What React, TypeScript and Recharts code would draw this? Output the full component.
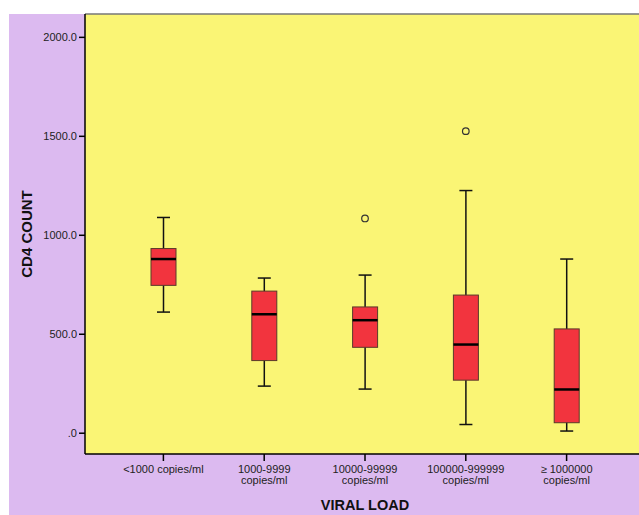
import React from "react";
import {
  ComposedChart,
  Bar,
  Line,
  XAxis,
  YAxis,
  CartesianGrid,
  ReferenceLine,
  Label,
} from "recharts";

const categories = [
  "<1000 copies/ml",
  "1000-9999|copies/ml",
  "10000-99999|copies/ml",
  "100000-999999|copies/ml",
  "≥ 1000000|copies/ml",
];
const mins = [612, 238, 223, 44, 11];
const q1s = [747, 367, 434, 268, 53];
const medians = [880, 601, 571, 448, 221];
const q3s = [933, 718, 638, 698, 527];
const maxs = [1090, 784, 799, 1226, 880];
const outliers = [null, null, 1085, 1526, null];
const yTicks = [0, 500, 1000, 1500, 2000];

const data = categories.map((name, i) => ({
  name,
  min: mins[i],
  q1: q1s[i],
  median: medians[i],
  q3: q3s[i],
  max: maxs[i],
  outlier: outliers[i],
}));

const FONT = "'Liberation Sans', Arial, sans-serif";

// range bar [min, max] gives the pixel mapping for the rest of the box
function BoxShape(props: any) {
  const { x, y, width, height, payload } = props;
  const top = Math.min(y, y + height);
  const bottom = Math.max(y, y + height);
  const span = payload.max - payload.min;
  const toY = (v: number) => top + ((payload.max - v) / span) * (bottom - top);
  const cx = x + width / 2;
  const cap = 6.5;
  return (
    <g>
      <line x1={cx} x2={cx} y1={top} y2={bottom} stroke="#111" strokeWidth={1.5} />
      <line x1={cx - cap} x2={cx + cap} y1={top} y2={top} stroke="#111" strokeWidth={1.5} />
      <line x1={cx - cap} x2={cx + cap} y1={bottom} y2={bottom} stroke="#111" strokeWidth={1.5} />
      <rect
        x={x}
        y={toY(payload.q3)}
        width={width}
        height={toY(payload.q1) - toY(payload.q3)}
        fill="#f2343e"
        stroke="#5a3a2a"
        strokeWidth={1}
      />
      <line
        x1={x}
        x2={x + width}
        y1={toY(payload.median)}
        y2={toY(payload.median)}
        stroke="#000"
        strokeWidth={2.5}
      />
    </g>
  );
}

function OutlierDot(props: any) {
  const { cx, cy, payload, index } = props;
  if (payload == null || payload.outlier == null || cy == null) return <g key={`o-${index}`} />;
  return <circle key={`o-${index}`} cx={cx} cy={cy} r={3.3} fill="none" stroke="#333" strokeWidth={1.2} />;
}

function XTick(props: any) {
  const { x, y, payload } = props;
  const lines = String(payload.value).split("|");
  return (
    <text x={x} y={y} textAnchor="middle" fontFamily={FONT} fontSize={11} fill="#222">
      {lines.map((l, i) => (
        <tspan key={i} x={x} dy={i === 0 ? 10 : 10.5}>
          {l}
        </tspan>
      ))}
    </text>
  );
}

export default function App() {
  return (
    <div style={{ position: "absolute", left: 0, top: 0, width: 639, height: 515, overflow: "hidden", background: "#fff" }}>
      <div style={{ position: "absolute", left: 9, top: 14, right: 0, bottom: 0, background: "#dcbaf0" }} />
      <div style={{ position: "absolute", left: 0, top: 0 }}>
        <ComposedChart width={645} height={515} data={data} margin={{ top: 14, right: 0, bottom: 0, left: 9 }}>
          <CartesianGrid fill="#faf575" horizontal={false} vertical={false} stroke="none" />
          <XAxis
            dataKey="name"
            type="category"
            height={61}
            padding={{ left: 28, right: 28 }}
            axisLine={{ stroke: "#000", strokeWidth: 1.5 }}
            tickLine={{ stroke: "#000", strokeWidth: 1.5 }}
            tickSize={7}
            tickMargin={2}
            interval={0}
            tick={<XTick />}
          >
            <Label
              value="VIRAL LOAD"
              position="insideBottom"
              offset={5}
              style={{ fontFamily: FONT, fontSize: 14.5, fontWeight: "bold", fill: "#111" }}
            />
          </XAxis>
          <YAxis
            type="number"
            domain={[-105, 2118]}
            ticks={yTicks}
            width={76}
            axisLine={{ stroke: "#000", strokeWidth: 1.5 }}
            tickLine={{ stroke: "#000", strokeWidth: 1.5 }}
            tickSize={6}
            tickMargin={2}
            tickFormatter={(v: number) => (v === 0 ? ".0" : v.toFixed(1))}
            tick={{ fontFamily: FONT, fontSize: 11, fill: "#222" }}
          >
            <Label
              value="CD4 COUNT"
              angle={-90}
              position="insideLeft"
              offset={18}
              style={{ fontFamily: FONT, fontSize: 15, fontWeight: "bold", fill: "#111", textAnchor: "middle" }}
            />
          </YAxis>
          <ReferenceLine y={2118} stroke="#777" strokeWidth={1.5} />
          <Bar
            dataKey={(d: any) => [d.min, d.max]}
            barSize={25}
            shape={<BoxShape />}
            isAnimationActive={false}
          />
          <Line
            dataKey="outlier"
            stroke="none"
            dot={OutlierDot}
            activeDot={false}
            legendType="none"
            isAnimationActive={false}
          />
        </ComposedChart>
      </div>
    </div>
  );
}
